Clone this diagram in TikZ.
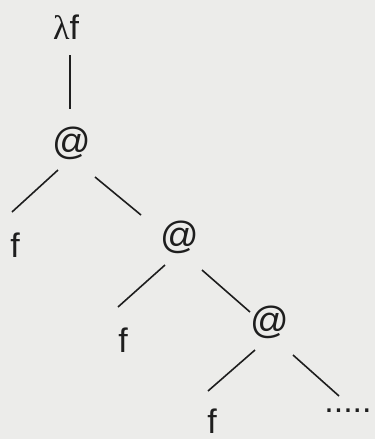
\documentclass[tikz,border=0pt]{standalone}
\usepackage{fontspec}
\setmainfont{Liberation Sans}
\newfontfamily\lamfont{Liberation Serif}
\usepackage{xcolor}
\definecolor{paper}{HTML}{ECECEA}
\definecolor{ink}{HTML}{1E1E1E}

\begin{document}
\begin{tikzpicture}[
  x=1pt, y=-1pt,
  term/.style={inner sep=0pt, text=ink, font=\fontsize{34}{40}\selectfont},
  app/.style={term, font=\fontsize{38}{44}\selectfont},
  edge/.style={draw=ink, line width=1.6pt}
]
  \fill[paper] (0,0) rectangle (375,439);
  \useasboundingbox (0,0) rectangle (375,439);

  \node[term, anchor=base] (lam) at (66,39) {{\lamfont λ}f};
  \node[app] (a1) at (72,143) {@};
  \node[term, anchor=base] (f1) at (15,257) {f};
  \node[app] (a2) at (180,237) {@};
  \node[term, anchor=base] (f2) at (123,352) {f};
  \node[app] (a3) at (270,322) {@};
  \node[term, anchor=base] (f3) at (212,433) {f};
  \node[term, anchor=base] (rest) at (348,412) {.....};

  \draw[edge] ([shift={(4,16)}]lam.base) -- ([shift={(-2,-34)}]a1.center);
  \draw[edge] ([shift={(-14,27)}]a1.center) -- ([shift={(-3,-45)}]f1.base);
  \draw[edge] ([shift={(23,34)}]a1.center) -- ([shift={(-39,-22)}]a2.center);
  \draw[edge] ([shift={(-15,28)}]a2.center) -- ([shift={(-5,-45)}]f2.base);
  \draw[edge] ([shift={(22,33)}]a2.center) -- ([shift={(-20,-10)}]a3.center);
  \draw[edge] ([shift={(-15,28)}]a3.center) -- ([shift={(-4,-42)}]f3.base);
  \draw[edge] ([shift={(23,33)}]a3.center) -- ([shift={(-9,-16)}]rest.base);
\end{tikzpicture}
\end{document}
